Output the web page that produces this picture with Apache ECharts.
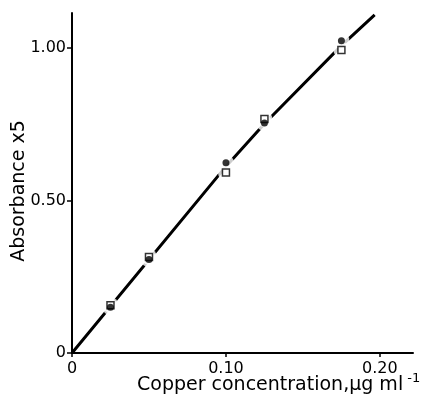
<!DOCTYPE html>
<html>
<head>
<meta charset="utf-8">
<script src="https://cdn.jsdelivr.net/npm/echarts@6/dist/echarts.min.js"></script>
<style>
  html, body { margin: 0; padding: 0; background: #fff; }
  #chart { width: 421px; height: 395px; }
</style>
</head>
<body>
<div id="chart"></div>
<script>
// Copper calibration: absorbance (x5) against copper concentration (µg/ml)
const concentration = [0.025, 0.05, 0.10, 0.125, 0.175];
const absorbanceCircle = [0.150, 0.307, 0.624, 0.754, 1.024];
const absorbanceSquare = [0.157, 0.315, 0.592, 0.767, 0.994];

// Hand-drawn calibration curve, read at a few points along its length
const curveX = [0, 0.10, 0.125, 0.175, 0.1966];
const curveY = [0, 0.612, 0.752, 1.008, 1.109];

const xTicks = [0, 0.10, 0.20];
const yTicks = [0, 0.50, 1.00];
const xTickLabels = ['0', '0.10', '0.20'];
const yTickLabels = ['0', '0.50', '1.00'];

const FONT = 'DejaVu Sans';
const pairs = (xs, ys) => xs.map((x, i) => [x, ys[i]]);

const chart = echarts.init(document.getElementById('chart'), null, { renderer: 'canvas' });
chart.setOption({
  backgroundColor: '#fff',
  animation: false,
  grid: { left: 72, right: 8, top: 13, bottom: 42 },
  xAxis: {
    type: 'value', min: 0, max: 0.2215,
    splitLine: { show: false },
    axisLine: { lineStyle: { color: '#000', width: 2 } },
    axisTick: { customValues: xTicks, length: 4, lineStyle: { color: '#000', width: 1.5 } },
    axisLabel: {
      customValues: xTicks, margin: 8, color: '#000', fontFamily: FONT, fontSize: 16,
      formatter: v => xTickLabels[xTicks.findIndex(t => Math.abs(t - v) < 1e-9)]
    }
  },
  yAxis: {
    type: 'value', min: 0, max: 1.115,
    splitLine: { show: false },
    axisLine: { lineStyle: { color: '#000', width: 2 } },
    axisTick: { customValues: yTicks, length: 5, lineStyle: { color: '#000', width: 1.5 } },
    axisLabel: {
      customValues: yTicks, margin: 6, color: '#000', fontFamily: FONT, fontSize: 16,
      formatter: v => yTickLabels[yTicks.findIndex(t => Math.abs(t - v) < 1e-9)]
    }
  },
  series: [
    {
      name: 'curve', type: 'line', data: pairs(curveX, curveY),
      smooth: false, showSymbol: false, z: 1,
      lineStyle: { color: '#000', width: 3 }
    },
    {
      // white clearing round each point so the curve breaks there
      name: 'clearCircle', type: 'scatter', data: pairs(concentration, absorbanceCircle),
      symbol: 'circle', symbolSize: 16, z: 2, silent: true,
      itemStyle: { color: '#fff' }
    },
    {
      name: 'clearSquare', type: 'scatter', data: pairs(concentration, absorbanceSquare),
      symbol: 'circle', symbolSize: 16, z: 2, silent: true,
      itemStyle: { color: '#fff' }
    },
    {
      name: 'open', type: 'scatter', data: pairs(concentration, absorbanceSquare),
      symbol: 'rect', symbolSize: 7, z: 3,
      itemStyle: { color: '#fff', borderColor: '#000', borderWidth: 1.5 }
    },
    {
      name: 'filled', type: 'scatter', data: pairs(concentration, absorbanceCircle),
      symbol: 'circle', symbolSize: 7, z: 4,
      itemStyle: { color: '#000' }
    }
  ],
  graphic: [
    {
      type: 'text', left: 137, top: 372, z: 10,
      style: {
        text: '{a|Copper concentration,µg ml}{s| -1}',
        fill: '#000',
        rich: {
          a: { fontFamily: FONT, fontSize: 19, fill: '#000' },
          s: { fontFamily: FONT, fontSize: 13, fill: '#000', padding: [0, 0, 13, 0] }
        }
      }
    },
    {
      type: 'text', x: 19, y: 191, rotation: Math.PI / 2, z: 10,
      style: {
        text: 'Absorbance x5', fontFamily: FONT, fontSize: 19, fill: '#000',
        align: 'center', verticalAlign: 'middle'
      }
    }
  ]
});
</script>
</body>
</html>
